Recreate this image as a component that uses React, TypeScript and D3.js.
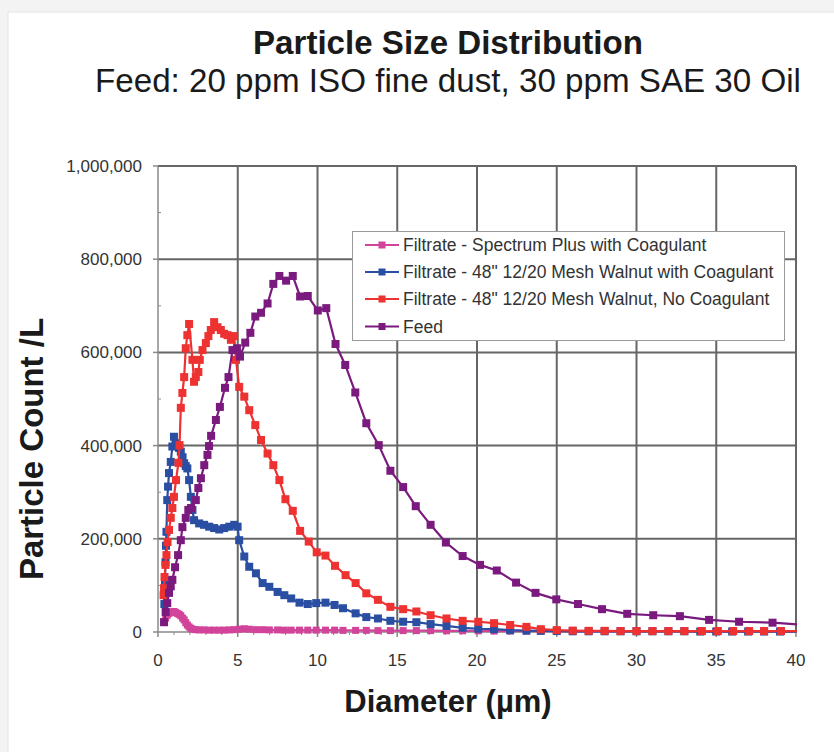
import React from "react";
import * as d3 from "d3";

// diameters (µm) and counts per litre
const pinkDiam = [0.38,0.48,0.58,0.69,0.8,0.9,1.0,1.1,1.21,1.32,1.43,1.54,1.64,1.74,1.84,1.95,2.06,2.16,2.37,2.58,2.89,3.21,3.52,3.84,4.15,4.47,4.78,5.09,5.41,5.72,6.14,6.56,6.98,7.5,7.92,8.35,8.87,9.39,9.92,10.5,11.07,11.6,12.39,13.06,13.79,14.57,15.37,16.2,17.09,18.09,19.1,20.08,21.07,22.08,23.1,24,25,26,27,28,29,30,31,32,33,34,35,36,37,38,39,40.5];
const pinkCount = [22000,30000,36000,40000,42000,43000,44000,42000,40000,38000,35000,30000,26000,20000,15000,11000,8000,6000,5000,4500,4500,4000,4000,4000,4000,4500,5000,6000,7000,6000,5000,5000,4500,4500,4000,4000,4000,4000,4000,4000,4000,3500,3500,3500,3000,3000,3000,3000,3000,2500,2500,2500,2000,2000,2000,2000,2000,1500,1500,1500,1500,1500,1500,1500,1500,1500,1500,1500,1500,1500,1500,1500];

const blueDiam = [0.40,0.44,0.47,0.50,0.53,0.58,0.63,0.69,0.8,0.9,1.0,1.1,1.21,1.32,1.43,1.54,1.64,1.74,1.84,1.95,2.06,2.16,2.26,2.58,2.89,3.21,3.52,3.84,4.15,4.47,4.78,4.99,5.09,5.41,5.72,6.14,6.56,6.98,7.5,7.92,8.35,8.87,9.39,9.92,10.5,11.07,11.6,12.39,13.06,13.79,14.57,15.37,16.2,17.09,18.09,19.1,20.08,21.07,22.08,23.1,24,25,26,27,28,29,30,31,32,33,34,35,36,37,38,39,40.5];
const blueCount = [60000,110000,150000,185000,215000,283000,312000,341000,365000,398000,419000,405000,401000,395000,387000,375000,362000,356000,351000,326000,290000,262000,240000,233000,230000,226000,223000,220000,223000,226000,230000,226000,197000,162000,140000,126000,105000,97000,86000,79000,72000,63000,60000,62000,63000,58000,51000,40000,32000,29000,24000,22000,21000,17000,13000,9000,7000,6000,4000,3000,2500,2000,1500,1500,1500,1500,1500,1500,1500,1500,1000,1000,1000,1000,1000,1000,1000];

const redDiam = [0.35,0.38,0.41,0.47,0.53,0.6,0.69,0.8,0.9,1.0,1.13,1.28,1.35,1.43,1.53,1.64,1.74,1.84,1.95,2.16,2.26,2.37,2.53,2.62,2.79,3.0,3.16,3.31,3.52,3.73,3.94,4.15,4.36,4.57,4.78,4.89,5.09,5.41,5.72,6.1,6.46,6.87,7.23,7.61,7.99,8.45,8.91,9.45,9.95,10.5,11.1,11.76,12.39,13.06,13.79,14.57,15.37,16.2,17.09,18.09,19.1,20.08,21.07,22.08,23.1,24,25,26,27,28,29,30,31,32,33,34.1,35.1,36.06,37.06,38,39.06,40.5];
const redCount = [79000,94000,118000,144000,165000,193000,219000,245000,266000,290000,326000,363000,401000,481000,513000,547000,609000,637000,661000,584000,537000,547000,558000,584000,605000,620000,635000,648000,665000,654000,648000,640000,637000,627000,635000,584000,526000,505000,476000,444000,412000,383000,358000,326000,285000,260000,217000,194000,171000,164000,142000,122000,105000,83000,69000,54000,49000,44000,36000,29000,24000,22000,19000,15000,11000,6000,4000,3000,2500,2500,2000,2000,2000,2000,2000,2000,2000,2000,2000,2000,2000,2000];

const feedDiam = [0.38,0.48,0.58,0.69,0.8,0.9,1.07,1.26,1.43,1.53,1.74,1.9,2.07,2.37,2.53,2.69,2.9,3.1,3.2,3.33,3.63,3.88,4.2,4.42,4.67,4.95,5.14,5.47,5.79,6.1,6.46,6.87,7.23,7.61,8.03,8.45,8.91,9.39,10.02,10.55,11.13,11.74,12.37,13.06,13.84,14.57,15.37,16.16,17.09,18.05,19.1,20.19,21.24,22.45,23.67,24.97,26.33,27.84,29.42,31.05,32.72,34.55,36.43,38.53,40.6];
const feedCount = [21000,43000,62000,84000,98000,112000,139000,165000,197000,225000,245000,262000,266000,283000,309000,330000,358000,380000,399000,421000,455000,483000,524000,547000,605000,609000,591000,621000,642000,677000,685000,705000,747000,764000,754000,764000,720000,721000,690000,695000,618000,573000,514000,448000,401000,346000,311000,270000,230000,192000,163000,144000,132000,106000,84000,70000,60000,49000,39000,36000,34000,26000,22000,20000,15000];

const seriesNames = [
  "Filtrate - Spectrum Plus with Coagulant",
  "Filtrate - 48\" 12/20 Mesh Walnut with Coagulant",
  "Filtrate - 48\" 12/20 Mesh Walnut, No Coagulant",
  "Feed",
];
const xTicks = [0, 5, 10, 15, 20, 25, 30, 35, 40];
const yTicks = [0, 200000, 400000, 600000, 800000, 1000000];

const FONT = "'Liberation Sans', Arial, Helvetica, sans-serif";

export default function App() {
  const W = 834, H = 752;
  const left = 158, right = 796, top = 166, bottom = 632;

  const x = d3.scaleLinear().domain([0, 40]).range([left, right]);
  const y = d3.scaleLinear().domain([0, 1000000]).range([bottom, top]);

  const series = [
    { name: seriesNames[0], color: "#d2449a", d: pinkDiam, v: pinkCount, size: 7 },
    { name: seriesNames[1], color: "#2a4ea2", d: blueDiam, v: blueCount, size: 8 },
    { name: seriesNames[2], color: "#ee3131", d: redDiam, v: redCount, size: 8 },
    { name: seriesNames[3], color: "#7a1a7e", d: feedDiam, v: feedCount, size: 8 },
  ];

  const line = d3.line<[number, number]>()
    .x(p => x(p[0]))
    .y(p => y(p[1]));

  const fmt = d3.format(",");
  const minorX = d3.range(0, 41, 1).filter(v => v % 5 !== 0);
  const minorY = d3.range(100000, 1000000, 200000);

  const legX = 352.5, legY = 231.5, legW = 432, legH = 109;
  const rowY = [245, 272, 299, 326.5];

  return (
    <svg width={W} height={H} style={{ position: "absolute", left: 0, top: 0 }} fontFamily={FONT}>
      <rect x={0} y={0} width={W} height={H} fill="#f3f3f3" />
      <rect x={8} y={12} width={W - 8} height={H - 12} fill="#ffffff" />
      <line x1={8} y1={12} x2={8} y2={H} stroke="#e4e4e4" />
      <line x1={8} y1={12} x2={W} y2={12} stroke="#e4e4e4" />

      <text x={448} y={54} textAnchor="middle" fontSize={33} fontWeight="bold" fill="#1a1a1a"
        textLength={390} lengthAdjust="spacingAndGlyphs">Particle Size Distribution</text>
      <text x={448} y={92} textAnchor="middle" fontSize={33} fill="#1a1a1a"
        textLength={706} lengthAdjust="spacingAndGlyphs">Feed: 20 ppm ISO fine dust, 30 ppm SAE 30 Oil</text>

      <defs>
        <clipPath id="plotClip">
          <rect x={left - 20} y={top - 10} width={right - left + 21} height={bottom - top + 20} />
        </clipPath>
      </defs>

      {/* grid */}
      {xTicks.filter(t => t > 0).map(t => (
        <line key={"gx" + t} x1={x(t)} x2={x(t)} y1={top} y2={bottom} stroke="#666" strokeWidth={2} />
      ))}
      {yTicks.filter(t => t > 0).map(t => (
        <line key={"gy" + t} x1={left} x2={right} y1={y(t)} y2={y(t)} stroke="#666" strokeWidth={2} />
      ))}

      {/* axes */}
      <line x1={left} x2={left} y1={top} y2={bottom} stroke="#8a8a8a" strokeWidth={1.5} />
      <line x1={left} x2={right} y1={bottom} y2={bottom} stroke="#8a8a8a" strokeWidth={1.5} />
      {yTicks.map(t => (
        <g key={"yt" + t}>
          <line x1={left - 5} x2={left} y1={y(t)} y2={y(t)} stroke="#8a8a8a" strokeWidth={1.5} />
          <text x={142} y={y(t)} dy="0.35em" textAnchor="end" fontSize={17} fill="#333">{fmt(t)}</text>
        </g>
      ))}
      {minorY.map(t => (
        <line key={"my" + t} x1={left} x2={left + 3} y1={y(t)} y2={y(t)} stroke="#8a8a8a" strokeWidth={1} />
      ))}
      {xTicks.map(t => (
        <g key={"xt" + t}>
          <line x1={x(t)} x2={x(t)} y1={bottom} y2={bottom + 5} stroke="#8a8a8a" strokeWidth={1.5} />
          <text x={x(t)} y={666} textAnchor="middle" fontSize={17} fill="#333">{t}</text>
        </g>
      ))}
      {minorX.map(t => (
        <line key={"mx" + t} x1={x(t)} x2={x(t)} y1={bottom} y2={bottom + 3} stroke="#8a8a8a" strokeWidth={1} />
      ))}

      {/* series */}
      <g clipPath="url(#plotClip)">
        {series.map(s => {
          const pts = s.d.map((d, i) => [d, s.v[i]] as [number, number]);
          return (
            <g key={s.name}>
              <path d={line(pts) || ""} fill="none" stroke={s.color} strokeWidth={2.2} />
              {pts.map((p, i) => (
                <rect key={i} x={x(p[0]) - s.size / 2} y={y(p[1]) - s.size / 2}
                  width={s.size} height={s.size} fill={s.color} />
              ))}
            </g>
          );
        })}
      </g>

      {/* legend */}
      <rect x={legX} y={legY} width={legW} height={legH} fill="#ffffff" stroke="#9a9a9a" strokeWidth={1} />
      {series.map((s, i) => (
        <g key={"lg" + i}>
          <line x1={365} x2={399} y1={rowY[i]} y2={rowY[i]} stroke={s.color} strokeWidth={2.2} />
          <rect x={382 - 3.5} y={rowY[i] - 3.5} width={7} height={7} fill={s.color} />
          <text x={403} y={rowY[i]} dy="0.36em" fontSize={17.5} fill="#333">{s.name}</text>
        </g>
      ))}

      {/* axis titles */}
      <text transform={`translate(43,449) rotate(-90)`} textAnchor="middle" fontSize={33}
        fontWeight="bold" fill="#1a1a1a">Particle Count /L</text>
      <text x={448} y={712} textAnchor="middle" fontSize={31} fontWeight="bold" fill="#1a1a1a">Diameter (µm)</text>
    </svg>
  );
}
